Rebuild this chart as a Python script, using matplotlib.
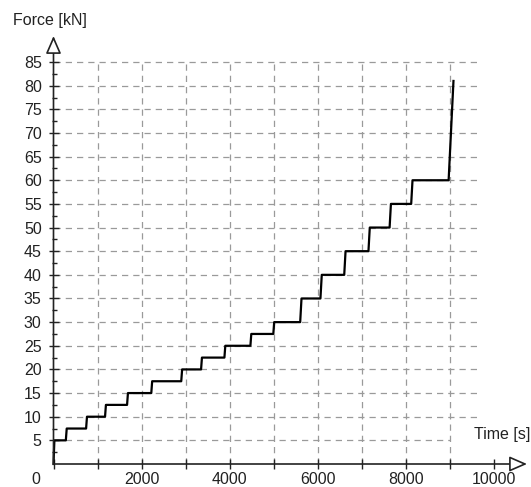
import numpy as np
import matplotlib
matplotlib.use('Agg')
import matplotlib.pyplot as plt

# Dados (vértices da curva força x tempo)
time_s = [0, 20, 280, 300, 740, 760, 1170, 1190, 1670, 1690, 2220, 2240,
          2900, 2920, 3350, 3370, 3880, 3900, 4470, 4490, 4990, 5010,
          5600, 5630, 6060, 6090, 6600, 6630, 7150, 7180, 7630, 7660,
          8120, 8150, 8970, 9080]
force_kN = [0, 5, 5, 7.5, 7.5, 10, 10, 12.5, 12.5, 15, 15, 17.5,
            17.5, 20, 20, 22.5, 22.5, 25, 25, 27.5, 27.5, 30,
            30, 35, 35, 40, 40, 45, 45, 50, 50, 55,
            55, 60, 60, 81]

x_major = [2000, 4000, 6000, 8000, 10000]
x_minor = [0, 1000, 3000, 5000, 7000, 9000]
y_major = list(range(5, 90, 5))
y_minor = [2.5 + 5 * i for i in range(17)]
x_grid = [1000, 2000, 3000, 4000, 5000, 6000, 7000, 8000, 9000]

plt.rcParams['font.family'] = ['Liberation Sans', 'DejaVu Sans']
fs = 11.5

W, H = 531, 487
fig = plt.figure(figsize=(W / 100, H / 100), dpi=100)
# eixos: origem em (53.5, 464) px, pontas das setas em x=527 e y=36
ax = fig.add_axes([53.5 / W, (H - 464) / H, (527 - 53.5) / W, (464 - 36) / H])
ax.set_xlim(0, (527 - 53.5) / 44.05 * 1000)
ax.set_ylim(0, (464 - 36) / 4.729)
ax.patch.set_alpha(0)
for s in ax.spines.values():
    s.set_visible(False)

# grade tracejada
grid_kw = dict(color='#9a9a9a', lw=0.9, linestyle=(0, (5, 4)), zorder=1)
ax.hlines([y for y in y_major if y > 5], 0, 9700, **grid_kw)
ax.hlines([5], 0, 9000, **grid_kw)
ax.vlines(x_grid, 0, 85, **grid_kw)

# curva
ax.plot(time_s, force_kN, color='black', lw=1.6, zorder=3, clip_on=False)

# eixos com setas abertas
arrow = dict(arrowstyle='-|>,head_length=1.08,head_width=0.47', fc='white',
             ec='#222222', lw=1.2, mutation_scale=10, shrinkA=0, shrinkB=0)
ax.annotate('', xy=(1, 0), xytext=(0, 0), xycoords='axes fraction',
            arrowprops=arrow, zorder=4)
ax.annotate('', xy=(0, 1), xytext=(0, 0), xycoords='axes fraction',
            arrowprops=arrow, zorder=4)

# ticks
ax.set_xticks(x_major)
ax.set_xticks(x_minor, minor=True)
ax.set_xticklabels([str(v) for v in x_major])
ax.set_yticks(y_major)
ax.set_yticks(y_minor, minor=True)
ax.set_yticklabels([str(v) for v in y_major])
ax.tick_params(axis='x', which='both', direction='inout', length=7,
               width=1.0, color='#222222', labelsize=fs, pad=2)
ax.tick_params(axis='y', which='major', direction='inout', length=7,
               width=1.0, color='#222222', labelsize=fs, pad=5)
ax.tick_params(axis='y', which='minor', direction='inout', length=3.6,
               width=1.0, color='#222222')
for t in ax.get_xticklabels() + ax.get_yticklabels():
    t.set_color('#222222')

ax.annotate('0', xy=(0, 0), xytext=(-12.6, -11.5), textcoords='offset points',
            ha='center', va='center', fontsize=fs, color='#222222')
ax.annotate('Force [kN]', xy=(0, 1), xycoords='axes fraction',
            xytext=(-2.5, 10.8), textcoords='offset points',
            ha='center', va='center', fontsize=fs, color='#222222')
ax.annotate('Time [s]', xy=(1, 0), xycoords='axes fraction',
            xytext=(2.2, 21.6), textcoords='offset points',
            ha='right', va='center', fontsize=fs, color='#222222')

fig.savefig('out.png', dpi=100)
